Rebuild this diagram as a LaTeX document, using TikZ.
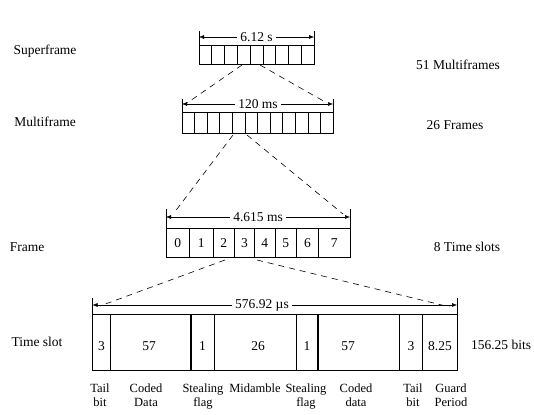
\documentclass[tikz,border=0pt]{standalone}
\usepackage{fontspec}
\setmainfont{Liberation Serif}
\usetikzlibrary{arrows.meta}
\begin{document}
\begin{tikzpicture}[x=1pt,y=-1pt,
  lbl/.style={font=\fontsize{13.5}{14}\selectfont, inner sep=0pt},
  fieldlbl/.style={font=\fontsize{12.5}{14}\selectfont, inner sep=0pt, anchor=north, align=center},
  box/.style={draw, line width=0.8pt},
  cell/.style={line width=0.6pt},
  thick cell/.style={line width=1.1pt},
  dim/.style={{Latex[length=5pt,width=4pt]}-{Latex[length=5pt,width=4pt]}, line width=0.5pt},
  ext/.style={line width=0.6pt},
  zoomline/.style={dash pattern=on 6pt off 5pt, line width=0.6pt},
  dimlbl/.style={lbl, fill=white, inner xsep=3pt}]
\useasboundingbox (0,0) rectangle (534,414);

% ---------- left and right labels
\node[lbl] (lsf) at (45,51) {Superframe};
\node[lbl] (lmf) at (45,122) {Multiframe};
\node[lbl] (lfr) at (27,247) {Frame};
\node[lbl] (lts) at (37,342) {Time slot};
\node[lbl] (rsf) at (458,65) {51 Multiframes};
\node[lbl] (rmf) at (455,125) {26 Frames};
\node[lbl] (rfr) at (467,247) {8 Time slots};
\node[lbl] (rts) at (501,345) {156.25 bits};

% ---------- superframe
\draw[box] (199,45) rectangle (314,64);
\foreach \i in {1,...,8} \draw[cell] ({199+\i*115/9},45) -- ++(0,19);
\draw[ext] (199,31) -- (199,45) (314,31) -- (314,45);
\coordinate (sfL) at (199,37);
\coordinate (sfR) at (314,37);
\draw[dim] (sfL) -- (sfR);
\node[dimlbl] (sft) at (256.5,37) {6.12 s};
\coordinate (sfa) at (242,65);
\coordinate (sfb) at (260,65);

% ---------- multiframe
\draw[box] (182,112) rectangle (333,133);
\foreach \i in {1,...,11} \draw[cell] ({182+\i*151/12},112) -- ++(0,21);
\draw[ext] (182,99) -- (182,112) (333,99) -- (333,112);
\coordinate (mfL) at (182,104);
\coordinate (mfR) at (333,104);
\draw[dim] (mfL) -- (mfR);
\node[dimlbl] (mft) at (258,104) {120 ms};
\coordinate (mfeL) at (187,103);
\coordinate (mfeR) at (327,103);
\coordinate (mfa) at (233,135);
\coordinate (mfb) at (247,135);
\draw[zoomline] (sfa) -- (mfeL);
\draw[zoomline] (sfb) -- (mfeR);

% ---------- frame
\draw[box] (166,228) rectangle (350,257);
\foreach \x in {189.5,213,254.5,275,296.5,318.5} \draw[cell] (\x,228) -- (\x,257);
\draw[thick cell] (234.5,228) -- (234.5,257);
\foreach \n/\x in {0/177.75,1/201.25,2/223.75,3/244.5,4/264.75,5/285.75,6/307.5,7/334.25}
  \node[lbl] (c\n) at (\x,243) {\n};
\draw[ext] (166,209) -- (166,228) (350,209) -- (350,228);
\coordinate (frL) at (166,217);
\coordinate (frR) at (350,217);
\draw[dim] (frL) -- (frR);
\node[dimlbl] (frt) at (258,217) {4.615 ms};
\coordinate (freL) at (174,213);
\coordinate (freR) at (343,214);
\coordinate (fra) at (225,260);
\coordinate (frb) at (257,260);
\draw[zoomline] (mfa) -- (freL);
\draw[zoomline] (mfb) -- (freR);

% ---------- time slot
\draw[box] (92.5,314) rectangle (457,370);
\foreach \x in {214,296,399.5,422.5} \draw[cell] (\x,314) -- (\x,370);
\foreach \x in {110.5,191,318} \draw[thick cell] (\x,314) -- (\x,370);
\draw[ext] (92.5,298) -- (92.5,314) (457,298) -- (457,314);
\coordinate (tsL) at (92.5,305);
\coordinate (tsR) at (457,305);
\draw[dim] (tsL) -- (tsR);
\node[dimlbl] (tst) at (262,305) {576.92 µs};
\coordinate (tseL) at (100,306);
\coordinate (tseR) at (450,307);
\draw[zoomline] (fra) -- (tseL);
\draw[zoomline] (frb) -- (tseR);

\node[lbl] (b1) at (101.5,346) {3};
\node[lbl] (b2) at (149,346) {57};
\node[lbl] (b3) at (202.5,346) {1};
\node[lbl] (b4) at (258,346) {26};
\node[lbl] (b5) at (307,346) {1};
\node[lbl] (b6) at (348,346) {57};
\node[lbl] (b7) at (411,346) {3};
\node[lbl] (b8) at (440,346) {8.25};

% ---------- field names
\node[fieldlbl] (n1) at (100,384) {Tail\\bit};
\node[fieldlbl] (n2) at (146,384) {Coded\\Data};
\node[fieldlbl] (n3) at (203,384) {Stealing\\flag};
\node[fieldlbl] (n4) at (255,384) {Midamble};
\node[fieldlbl] (n5) at (306,384) {Stealing\\flag};
\node[fieldlbl] (n6) at (356,384) {Coded\\data};
\node[fieldlbl] (n7) at (413,384) {Tail\\bit};
\node[fieldlbl] (n8) at (451,384) {Guard\\Period};
\end{tikzpicture}
\end{document}
